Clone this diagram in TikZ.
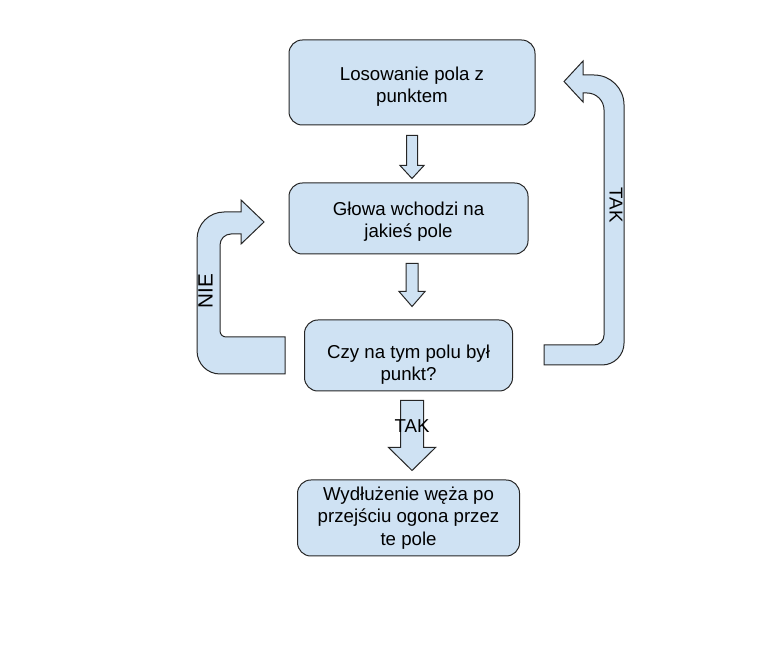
\documentclass[tikz,border=0pt]{standalone}
\usepackage{fontspec}
\setmainfont{Liberation Sans}
\usetikzlibrary{positioning,calc}
\definecolor{boxblue}{HTML}{CFE2F3}

\begin{document}
\begin{tikzpicture}[x=0.75pt, y=-0.75pt,
  box/.style={draw=black!85, fill=boxblue, rounded corners=10pt, align=center, inner sep=0pt, line width=0.75pt, font=\fontsize{14}{16.75}\selectfont},
  blk/.style={draw=black!85, fill=boxblue, line width=0.75pt, line join=miter},
  lbl/.style={font=\fontsize{14}{16}\selectfont}
]
\useasboundingbox (0,0) rectangle (769,649);

\node[box, minimum width=184.5pt, minimum height=63.75pt] (los) at (412,82.5) {\rule{0pt}{16.2pt}Losowanie pola z\\punktem};
\node[box, minimum width=179.25pt, minimum height=53.25pt, below=42.75pt of los, xshift=-2.6pt] (glowa) {\rule{0pt}{14.7pt}Głowa wchodzi na\\jakieś pole};
\node[box, minimum width=156pt, minimum height=53.25pt, below=48.75pt of glowa] (czy) {\rule{0pt}{23.7pt}Czy na tym polu był\\punkt?};
\node[box, minimum width=166.5pt, minimum height=57pt, below=66pt of czy] (wyd) {Wydłużenie węża po\\przejściu ogona przez\\te pole};

% strzalki w dol
\draw[blk] ($(los.south)+(-5.5,10)$) -- ++(11,0) -- ++(0,30) -- ++(6.5,0) -- ++(-12,13) -- ++(-12,-13) -- ++(6.5,0) -- cycle;
\draw[blk] ($(glowa.south)+(-2.5,9)$) -- ++(12,0) -- ++(0,28) -- ++(7,0) -- ++(-13,15) -- ++(-13,-15) -- ++(7,0) -- cycle;
\draw[blk] ($(czy.south)+(-8,9)$) -- ++(23,0) -- ++(0,47) -- ++(12,0) -- ++(-23.5,23) -- ++(-23.5,-23) -- ++(12,0) -- cycle;
\node[lbl] (tak1) at ($(czy.south)+(3.5,35)$) {TAK};

% NIE: powrot do glowy
\draw[blk] ($(czy.west)+(-19,-18.5)$) -- ++(-59,0)
  arc[start angle=90, end angle=180, radius=6] -- ++(0,-86)
  arc[start angle=180, end angle=270, radius=11] -- ++(10,0)
  -- ++(0,10) -- ++(23,-22) -- ++(-23,-22) -- ++(0,12) -- ++(-17,0)
  arc[start angle=270, end angle=180, radius=27] -- ++(0,112)
  arc[start angle=180, end angle=90, radius=23] -- ++(65,0) -- cycle;
\node[lbl, font=\fontsize{15.5}{16}\selectfont, rotate=90] (nie) at (205.5,291) {NIE};

% TAK: nowe losowanie
\draw[blk] ($(czy.east)+(31,-10.5)$) -- ++(50,0)
  arc[start angle=90, end angle=0, radius=10] -- ++(0,-225)
  arc[start angle=0, end angle=-90, radius=17] -- ++(-4,0)
  -- ++(0,9) -- ++(-19,-20.5) -- ++(19,-20.5) -- ++(0,14) -- ++(11,0)
  arc[start angle=-90, end angle=0, radius=30] -- ++(0,238)
  arc[start angle=0, end angle=90, radius=22] -- ++(-58,0) -- cycle;
\node[lbl, rotate=-90] (tak2) at (616,205) {TAK};

\end{tikzpicture}
\end{document}
